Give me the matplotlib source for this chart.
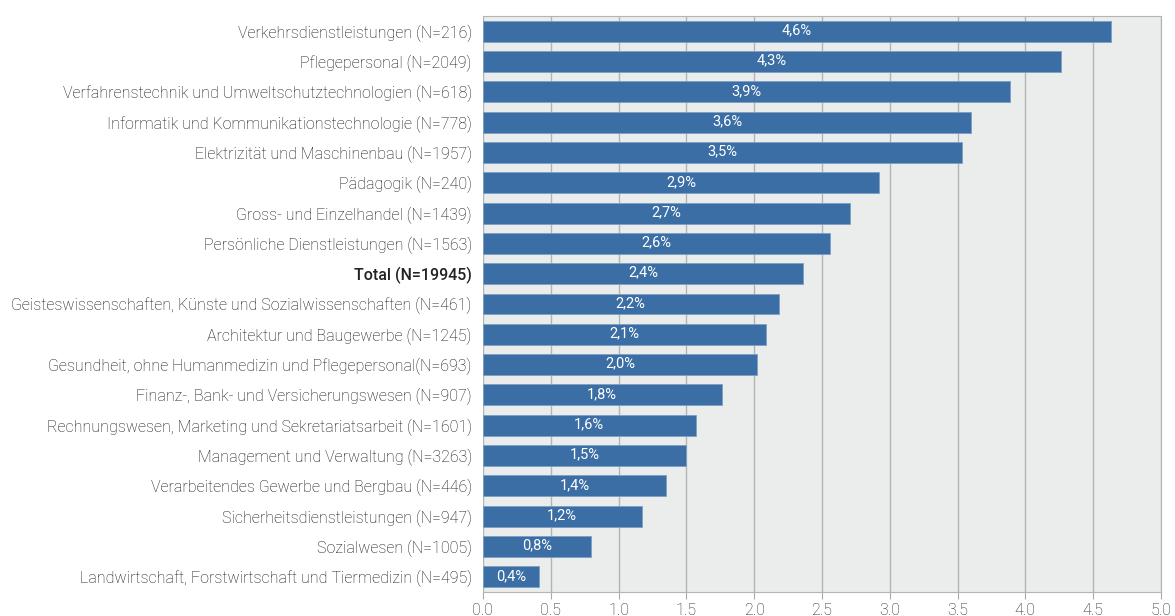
import matplotlib.pyplot as plt
import numpy as np

categories = [
    "Verkehrsdienstleistungen (N=216)",
    "Pflegepersonal (N=2049)",
    "Verfahrenstechnik und Umweltschutztechnologien (N=618)",
    "Informatik und Kommunikationstechnologie (N=778)",
    "Elektrizität und Maschinenbau (N=1957)",
    "Pädagogik (N=240)",
    "Gross- und Einzelhandel (N=1439)",
    "Persönliche Dienstleistungen (N=1563)",
    "Total (N=19945)",
    "Geisteswissenschaften, Künste und Sozialwissenschaften (N=461)",
    "Architektur und Baugewerbe (N=1245)",
    "Gesundheit, ohne Humanmedizin und Pflegepersonal(N=693)",
    "Finanz-, Bank- und Versicherungswesen (N=907)",
    "Rechnungswesen, Marketing und Sekretariatsarbeit (N=1601)",
    "Management und Verwaltung (N=3263)",
    "Verarbeitendes Gewerbe und Bergbau (N=446)",
    "Sicherheitsdienstleistungen (N=947)",
    "Sozialwesen (N=1005)",
    "Landwirtschaft, Forstwirtschaft und Tiermedizin (N=495)",
]
values = [4.63, 4.26, 3.89, 3.60, 3.53, 2.92, 2.71, 2.56, 2.36, 2.18,
          2.09, 2.02, 1.76, 1.57, 1.50, 1.35, 1.17, 0.80, 0.41]
xticks = [0.0, 0.5, 1.0, 1.5, 2.0, 2.5, 3.0, 3.5, 4.0, 4.5, 5.0]

plt.rcParams['font.family'] = ['Roboto', 'DejaVu Sans']

fig = plt.figure(figsize=(11.75, 6.16), dpi=100)
ax = fig.add_axes([0.411, 0.039, 0.577, 0.935])
ax.set_facecolor('#ebecec')

y = np.arange(len(categories))
ax.barh(y, values, height=0.69, color='#3a6ea5', edgecolor='#7d9fc6',
        linewidth=0.6, zorder=3)
for yi, v in zip(y, values):
    ax.text(v / 2, yi - 0.03, f"{v:.1f}%".replace('.', ','), ha='center',
            va='center', color='white', fontsize=10.5, zorder=4)

ax.set_ylim(len(categories) - 0.5, -0.5)
ax.set_xlim(0, 5)
ax.set_yticks(y)
ax.set_yticklabels(categories, fontsize=11.5, color='#111111', fontweight='light')
for lbl in ax.get_yticklabels():
    if lbl.get_text().startswith('Total'):
        lbl.set_fontweight('medium')
        lbl.set_color('#222222')
ax.set_xticks(xticks)
ax.set_xticklabels([f"{t:.1f}" for t in xticks], fontsize=11.5, color='#222222',
                   fontweight='light')
ax.tick_params(axis='y', length=0, pad=8)
ax.tick_params(axis='x', length=5, color='#aaaaaa', pad=3)
ax.grid(axis='x', color='#b4b4b4', linewidth=1, zorder=1)
for s in ax.spines.values():
    s.set_color('#b4b4b4')
ax.spines['left'].set_visible(False)

fig.savefig('out.png', dpi=100)
